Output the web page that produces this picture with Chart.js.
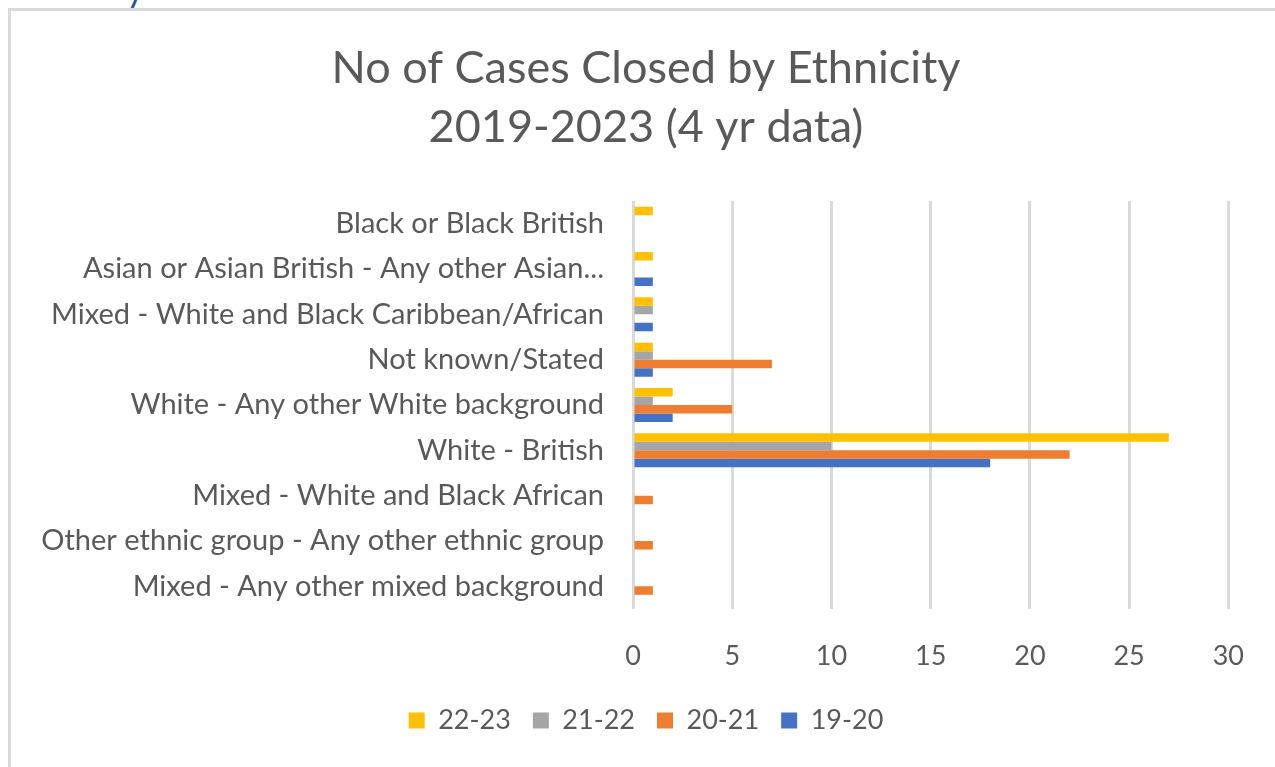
<!DOCTYPE html>
<html>
<head>
<meta charset="utf-8">
<script src="https://cdn.jsdelivr.net/npm/chart.js@4.4.1/dist/chart.umd.min.js"></script>
<style>
  html, body { margin: 0; padding: 0; background: #fff; overflow: hidden; }
  #wrap { position: relative; width: 1275px; height: 767px; }
  #frame { position: absolute; left: 8px; top: 8px; width: 1280px; height: 780px;
           border-left: 3px solid #d9d9d9; border-top: 3px solid #d9d9d9; pointer-events: none; }
  #frag { position: absolute; left: 126px; top: -30px; font: 36px Lato, sans-serif; color: #2f5597; line-height: 1; }
  canvas { position: absolute; left: 0; top: 0; }
</style>
</head>
<body>
<div id="wrap">
  <span id="frag">y</span>
  <canvas id="ethnicityChart" width="1275" height="767"></canvas>
  <div id="frame"></div>
</div>
<script>
const categories = [
    "Black or Black British",
    "Asian or Asian British - Any other Asian...",
    "Mixed - White and Black Caribbean/African",
    "Not known/Stated",
    "White - Any other White background",
    "White - British",
    "Mixed - White and Black African",
    "Other ethnic group - Any other ethnic group",
    "Mixed - Any other mixed background"
];
const yearLabels = ["22-23", "21-22", "20-21", "19-20"];
const cases2223 = [1, 1, 1, 1, 2, 27, 0, 0, 0];
const cases2122 = [0, 0, 1, 1, 1, 10, 0, 0, 0];
const cases2021 = [0, 0, 0, 7, 5, 22, 1, 1, 1];
const cases1920 = [0, 1, 1, 1, 2, 18, 0, 0, 0];
const xTicks = [0, 5, 10, 15, 20, 25, 30];

const barColors = ["#ffc000", "#a5a5a5", "#ed7d31", "#4472c4"];
const textColor = "#595959";
const fontFamily = "Lato, 'Open Sans', sans-serif";

const ctx = document.getElementById("ethnicityChart").getContext("2d");

new Chart(ctx, {
    type: "bar",
    data: {
        labels: categories,
        datasets: [cases2223, cases2122, cases2021, cases1920].map((values, i) => ({
            label: yearLabels[i],
            data: values,
            backgroundColor: barColors[i],
            borderWidth: 0,
            categoryPercentage: 0.75,
            barPercentage: 1.0
        }))
    },
    options: {
        indexAxis: "y",
        responsive: false,
        animation: false,
        layout: { padding: { left: 33, right: 16, top: 0, bottom: 23 } },
        plugins: {
            title: {
                display: true,
                text: ["No of Cases Closed by Ethnicity", "2019-2023 (4 yr data)"],
                color: textColor,
                font: { family: fontFamily, size: 45, weight: "normal", lineHeight: 1.333 },
                padding: { top: 38, bottom: 43 }
            },
            legend: {
                position: "bottom",
                labels: {
                    color: textColor,
                    font: { family: fontFamily, size: 27 },
                    boxWidth: 16,
                    boxHeight: 16,
                    padding: 22
                }
            },
            tooltip: { enabled: false }
        },
        scales: {
            x: {
                min: 0,
                max: 30,
                afterBuildTicks: (scale) => { scale.ticks = xTicks.map(v => ({ value: v })); },
                afterFit: (scale) => { scale.height = 76; },
                grid: { color: "#d9d9d9", lineWidth: 3, drawTicks: false },
                border: { display: false },
                ticks: {
                    color: textColor,
                    font: { family: fontFamily, size: 27 },
                    padding: 31
                }
            },
            y: {
                afterFit: (scale) => { scale.width = 600; },
                grid: { display: false },
                border: { display: false },
                ticks: {
                    color: textColor,
                    font: { family: fontFamily, size: 29 },
                    padding: 21,
                    autoSkip: false
                }
            },
            // empty spacer on the right so the plot ends where the reference does
            yRight: {
                position: "right",
                afterFit: (scale) => { scale.width = 29; },
                grid: { display: false },
                border: { display: false },
                ticks: { display: false }
            }
        }
    }
});
</script>
</body>
</html>
